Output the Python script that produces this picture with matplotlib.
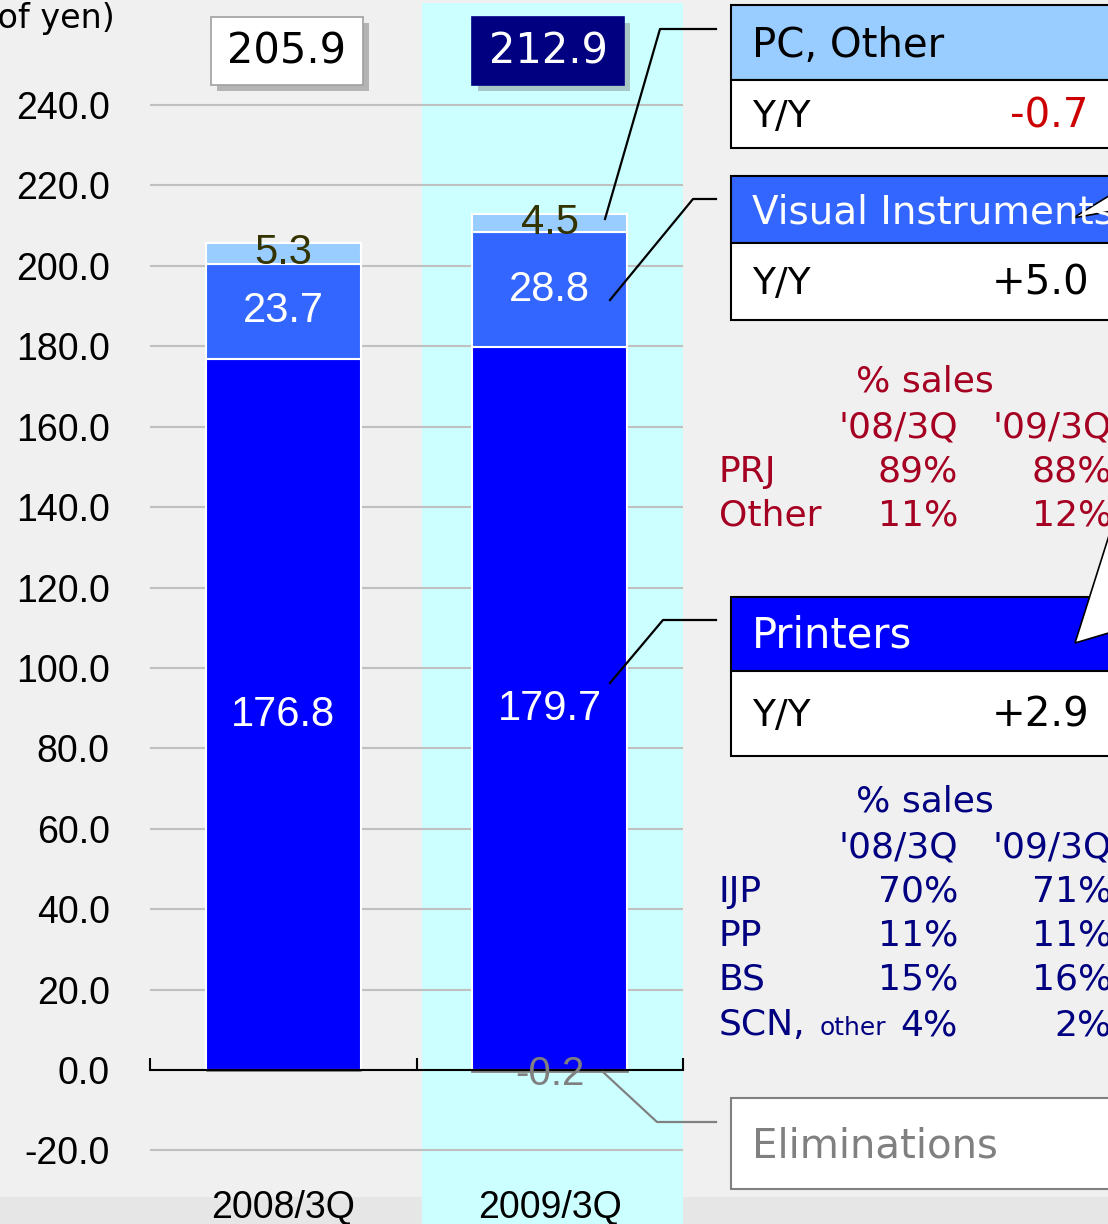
import numpy as np
import matplotlib.pyplot as plt
from matplotlib.patches import Rectangle, Polygon

# Data
periods = ['2008/3Q', '2009/3Q']
printers = np.array([176.8, 179.7])
visual = np.array([23.7, 28.8])
pc_other = np.array([5.3, 4.5])
elim = np.array([0.0, -0.2])
totals = [205.9, 212.9]

yoy_pc = '-0.7'
yoy_visual = '+5.0'
yoy_printers = '+2.9'

prj_rows = ['PRJ', 'Other']
prj_08 = ['89%', '11%']
prj_09 = ['88%', '12%']

prn_rows = ['IJP', 'PP', 'BS', 'SCN,']
prn_08 = ['70%', '11%', '15%', '4%']
prn_09 = ['71%', '11%', '16%', '2%']

W, H = 1108, 1224
BG = '#F0F0F0'
ARIAL = 'Liberation Sans'
SANS = 'DejaVu Sans'

fig = plt.figure(figsize=(W / 100, H / 100), dpi=100, facecolor=BG)

# background strip + highlighted column (pixel -> figure coords)
fig.patches.append(Rectangle((0, 0), 1, (H - 1197) / H, transform=fig.transFigure,
                             fc='#E6E6E6', ec='none', zorder=-3))
fig.patches.append(Rectangle((422 / W, 0), (683 - 422) / W, (H - 3) / H,
                             transform=fig.transFigure, fc='#CCFFFF', ec='none', zorder=-2))

# main axes: x from 150 to 683 px, 0 at y=1070 px
ppu = (1070 - 105) / 240
ax = fig.add_axes([150 / W, 0, (683 - 150) / W, (H - 3) / H])
ax.set_facecolor('none')
ax.set_xlim(0, 2)
ax.set_ylim(-(H - 1070) / ppu, (1070 - 3) / ppu)

x = np.array([0.5, 1.5])
bw = 0.58
b1 = ax.bar(x, printers, bw, color='#0000FF', edgecolor='white', lw=1.5, zorder=3)
b2 = ax.bar(x, visual, bw, bottom=printers, color='#3366FF', edgecolor='white', lw=1.5, zorder=3)
b3 = ax.bar(x, pc_other, bw, bottom=printers + visual, color='#99CCFF', edgecolor='white', lw=1.5, zorder=3)
b4 = ax.bar(x, elim, bw, color='#808080', edgecolor='#808080', lw=2, zorder=3)

ax.bar_label(b1, fmt='%.1f', label_type='center', color='white', fontsize=30, family=ARIAL)
ax.bar_label(b2, fmt='%.1f', label_type='center', color='white', fontsize=30, family=ARIAL)
ax.bar_label(b3, fmt='%.1f', label_type='center', color='#333300', fontsize=30, family=ARIAL)
for xi, v in zip(x, elim):
    if v != 0:
        ax.text(xi, -15 / ppu, f'{v:.1f}', ha='center', va='baseline', color='#808080',
                fontsize=29, family=ARIAL, zorder=6)

ax.set_yticks(np.arange(-20, 241, 20))
ax.set_yticklabels([f'{v:.1f}' for v in np.arange(-20, 241, 20)], fontsize=27, family=ARIAL)
ax.yaxis.grid(True, color='#C0C0C0', lw=1.5)
ax.set_axisbelow(True)
ax.tick_params(axis='y', length=0, pad=29)
for s in ['left', 'right', 'top']:
    ax.spines[s].set_visible(False)
ax.spines['bottom'].set_position(('data', 0))
ax.spines['bottom'].set_linewidth(1.5)
ax.spines['bottom'].set_zorder(5)
ax.set_xticks([0, 1, 2])
ax.set_xticklabels([])
ax.tick_params(axis='x', direction='in', length=8.6, width=1.5)

for xi, p in zip(x, periods):
    ax.text(xi, -(1218 - 1070) / ppu, p, ha='center', va='baseline', fontsize=27,
            family=ARIAL, clip_on=False)

# overlay in pixel coords for boxes, tables, callouts
ov = fig.add_axes([0, 0, 1, 1], zorder=5)
ov.set_xlim(0, W)
ov.set_ylim(H, 0)
ov.axis('off')

ov.text(115, 28, '(Billions of yen)', ha='right', va='baseline', fontsize=24, family=SANS)

# total boxes
ov.add_patch(Rectangle((217, 23), 152, 68, fc='#B4B4B4', ec='none'))
ov.add_patch(Rectangle((211, 17), 152, 68, fc='white', ec='#A0A0A0', lw=1.2))
ov.text(287, 64, f'{totals[0]:.1f}', ha='center', va='baseline', fontsize=30, family=SANS)
ov.add_patch(Rectangle((478, 23), 152, 68, fc='#A8C6C6', ec='none'))
ov.add_patch(Rectangle((472, 17), 152, 68, fc='#000080', ec='#000080', lw=1.2))
ov.text(548, 64, f'{totals[1]:.1f}', ha='center', va='baseline', fontsize=30, family=SANS,
        color='white')


def seg_box(top, mid, bot, head_color, title, title_color, title_size, yoy, yoy_color):
    ov.add_patch(Rectangle((731, top), 420, mid - top, fc=head_color, ec='black', lw=1.5))
    ov.add_patch(Rectangle((731, mid), 420, bot - mid, fc='white', ec='black', lw=1.5))
    ov.text(752, (top + mid) / 2 + 14, title, ha='left', va='baseline', fontsize=title_size,
            family=SANS, color=title_color)
    ov.text(752, (mid + bot) / 2 + 13, 'Y/Y', ha='left', va='baseline', fontsize=27, family=SANS)
    ov.text(1089, (mid + bot) / 2 + 13, yoy, ha='right', va='baseline', fontsize=29,
            family=SANS, color=yoy_color)


seg_box(5, 80, 148, '#99CCFF', 'PC, Other', 'black', 29, yoy_pc, '#CC0000')
seg_box(176, 243, 320, '#3366FF', 'Visual Instruments', 'white', 28, yoy_visual, 'black')
seg_box(597, 671, 756, '#0000FF', 'Printers', 'white', 30, yoy_printers, 'black')

ov.add_patch(Rectangle((731, 1098), 420, 91, fc='white', ec='#808080', lw=1.5))
ov.text(752, 1157, 'Eliminations', ha='left', va='baseline', fontsize=29, family=SANS,
        color='#808080')

# wedges of the off-canvas callouts
ov.add_patch(Polygon([(1112, 194), (1073, 218), (1112, 211)], closed=True, fc='white',
                     ec='black', lw=1.2))
ov.add_patch(Polygon([(1112, 526), (1075, 643), (1112, 632)], closed=True, fc='white',
                     ec='black', lw=1.2))

# leader lines
ov.plot([716, 660, 605], [29, 29, 219], color='black', lw=1.6)
ov.plot([716, 693, 610], [199, 199, 300], color='black', lw=1.6)
ov.plot([716, 663, 610], [620, 620, 683], color='black', lw=1.6)
ov.plot([716, 657, 603], [1122, 1122, 1072], color='#808080', lw=1.6)

# % sales tables
PRJ_C = '#A50021'
PRN_C = '#000080'


def sales_table(y_title, y_head, y_rows, rows, v08, v09, color):
    ov.text(925, y_title, '% sales', ha='center', va='baseline', fontsize=26, family=SANS, color=color)
    ov.text(958, y_head, "'08/3Q", ha='right', va='baseline', fontsize=26, family=SANS, color=color)
    ov.text(993, y_head, "'09/3Q", ha='left', va='baseline', fontsize=26, family=SANS, color=color)
    for yb, r, a, b in zip(y_rows, rows, v08, v09):
        ov.text(719, yb, r, ha='left', va='baseline', fontsize=26, family=SANS, color=color)
        ov.text(958, yb, a, ha='right', va='baseline', fontsize=26, family=SANS, color=color)
        ov.text(1112, yb, b, ha='right', va='baseline', fontsize=26, family=SANS, color=color)


sales_table(392, 437, [482, 525], prj_rows, prj_08, prj_09, PRJ_C)
sales_table(812, 857, [902, 946, 990, 1035], prn_rows, prn_08, prn_09, PRN_C)
ov.text(820, 1035, 'other', ha='left', va='baseline', fontsize=18, family=SANS, color=PRN_C)

fig.savefig('out.png', dpi=100, facecolor=BG)
